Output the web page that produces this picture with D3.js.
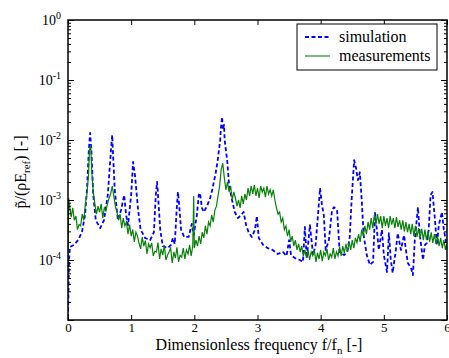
<!DOCTYPE html>
<html><head><meta charset="utf-8">
<script src="https://cdn.jsdelivr.net/npm/d3@7"></script>
<style>
body{margin:0;background:#fff;}
svg{display:block;}
svg text{font-family:"Liberation Serif","Times New Roman",Times,"DejaVu Serif",serif;}
</style></head>
<body><svg id="c" width="449" height="358"></svg>
<script>
// ---- data ----
const xTickValues = [0, 1, 2, 3, 4, 5, 6];
const yTickExponents = [0, -1, -2, -3, -4];
const seriesNames = ["simulation", "measurements"];

const simFreq = [
  0, 0.016, 0.03, 0.095, 0.16, 0.22, 0.27, 0.30, 0.33, 0.35, 0.37, 0.40, 0.44, 0.51, 0.57, 0.63,
  0.68, 0.70, 0.71, 0.74, 0.79, 0.84, 0.89, 0.92, 0.95, 1.00, 1.03, 1.06, 1.11, 1.15, 1.22, 1.30,
  1.36, 1.39, 1.41, 1.42, 1.46, 1.50, 1.58, 1.63, 1.66, 1.69, 1.72, 1.74, 1.76, 1.79, 1.84, 1.91,
  1.96, 1.99, 2.04, 2.07, 2.09, 2.12, 2.15, 2.20, 2.25, 2.29, 2.34, 2.37, 2.41, 2.42, 2.44, 2.45,
  2.47, 2.48, 2.52, 2.55, 2.59, 2.64, 2.69, 2.74, 2.78, 2.82, 2.86, 2.91, 2.96, 2.99, 3.02, 3.09,
  3.16, 3.24, 3.32, 3.40, 3.46, 3.50, 3.53, 3.59, 3.67, 3.72, 3.75, 3.78, 3.83, 3.88, 3.92, 3.97,
  3.99, 4.02, 4.05, 4.08, 4.13, 4.18, 4.21, 4.26, 4.30, 4.37, 4.42, 4.46, 4.49, 4.53, 4.56, 4.59,
  4.62, 4.65, 4.68, 4.73, 4.78, 4.83, 4.86, 4.89, 4.92, 4.97, 5.00, 5.05, 5.08, 5.11, 5.14, 5.19,
  5.22, 5.27, 5.32, 5.35, 5.38, 5.43, 5.46, 5.49, 5.54, 5.57, 5.62, 5.65, 5.68, 5.71, 5.74, 5.77,
  5.81, 5.84, 5.87, 5.92, 5.95, 5.98, 6.00];
const simAmp = [
  1.08e-5, 9.3e-5, 1.65e-4, 1.78e-4, 2.15e-4, 2.9e-4, 5.6e-4, 1.47e-3, 6.8e-3, 1.31e-2, 6.8e-3, 1.21e-3, 4.6e-4, 3.4e-4, 4.6e-4, 1.21e-3,
  6.8e-3, 1.21e-2, 6.8e-3, 1.47e-3, 4.6e-4, 6.8e-4, 1.21e-3, 5.6e-4, 3.8e-4, 1.21e-3, 4.3e-3, 2.6e-3, 6.8e-4, 3.2e-4, 2.33e-4, 2.15e-4,
  2.9e-4, 1.21e-3, 2.0e-3, 1.47e-3, 3.2e-4, 1.71e-4, 1.58e-4, 1.78e-4, 2.33e-4, 1.85e-4, 6.8e-4, 1.36e-3, 8.3e-4, 3.2e-4, 2.42e-4, 2.42e-4,
  4.0e-4, 2.6e-4, 5.6e-4, 1.21e-3, 1.31e-3, 7.4e-4, 6.3e-4, 7.9e-4, 1.08e-3, 1.58e-3, 2.9e-3, 4.6e-3, 1.0e-2, 1.58e-2, 2.42e-2, 1.47e-2,
  1.78e-2, 1.0e-2, 4.6e-3, 1.78e-3, 1.08e-3, 6.3e-4, 5.0e-4, 5.6e-4, 6.3e-4, 3.8e-4, 2.9e-4, 2.42e-4, 3.2e-4, 5.4e-4, 2.33e-4, 1.78e-4,
  1.58e-4, 1.47e-4, 1.26e-4, 1.36e-4, 1.17e-4, 2.15e-4, 1.21e-4, 1.08e-4, 1.0e-4, 9.3e-5, 3.55e-4, 1.08e-4, 3.8e-4, 1.21e-4, 1.78e-4, 8.3e-4,
  1.58e-3, 8.3e-4, 5.6e-4, 1.47e-4, 2.15e-4, 6.8e-4, 7.6e-4, 6.8e-4, 1.36e-4, 1.21e-4, 1.36e-4, 2.42e-4, 1.0e-3, 4.6e-3, 3.4e-3, 2.15e-3,
  2.9e-3, 1.0e-3, 2.6e-4, 1.21e-4, 8.3e-5, 9.3e-5, 6.1e-4, 3.2e-4, 1.47e-4, 3.2e-4, 1.21e-4, 6.3e-5, 2.8e-4, 1.0e-4, 6.1e-5, 1.47e-4,
  2.8e-4, 1.47e-4, 2.6e-4, 1.47e-4, 8.9e-5, 7.4e-5, 5.6e-5, 2.15e-4, 7.6e-4, 2.6e-4, 1.0e-4, 1.78e-4, 1.92e-4, 3.2e-4, 1.21e-3, 1.36e-3,
  4.6e-4, 1.78e-4, 3.8e-4, 6.3e-4, 3.2e-4, 2.15e-4, 1.47e-4];

const measFreq = [
  0, 0.01, 0.025, 0.05, 0.075, 0.1, 0.125, 0.15, 0.175, 0.2, 0.225, 0.25, 0.275, 0.3, 0.325, 0.34, 0.36, 0.375, 0.4,
  0.425, 0.45, 0.475, 0.5, 0.525, 0.55, 0.575, 0.6, 0.625, 0.65, 0.675, 0.7, 0.725, 0.75, 0.775, 0.8, 0.825, 0.85, 0.875, 0.9, 0.925, 0.95, 0.975, 1.0,
  1.025, 1.05, 1.075, 1.1, 1.125, 1.15, 1.175, 1.2, 1.225, 1.25, 1.275, 1.3, 1.325, 1.35, 1.375, 1.4, 1.425, 1.45, 1.475, 1.5,
  1.525, 1.55, 1.575, 1.6, 1.625, 1.65, 1.675, 1.7, 1.725, 1.75, 1.775, 1.8, 1.825, 1.85, 1.875, 1.9, 1.925, 1.95, 1.975,
  1.99, 2.0, 2.025, 2.05, 2.075, 2.1, 2.125, 2.15, 2.175, 2.2, 2.225, 2.25, 2.275, 2.3, 2.325, 2.35, 2.375, 2.4, 2.425, 2.45,
  2.475, 2.5, 2.525, 2.55, 2.575, 2.6, 2.625, 2.65, 2.675, 2.7, 2.725, 2.75, 2.775, 2.8, 2.825, 2.85, 2.875, 2.9, 2.925, 2.95, 2.975, 3.0,
  3.025, 3.05, 3.075, 3.1, 3.125, 3.15, 3.175, 3.2, 3.225, 3.25, 3.275, 3.3, 3.325, 3.35, 3.375, 3.4, 3.425, 3.45, 3.475, 3.5,
  3.525, 3.55, 3.575, 3.6, 3.625, 3.65, 3.675, 3.7, 3.725, 3.75, 3.775, 3.8, 3.825, 3.85, 3.875, 3.9, 3.925, 3.95, 3.975, 4.0,
  4.025, 4.05, 4.075, 4.1, 4.125, 4.15, 4.175, 4.2, 4.225, 4.25, 4.275, 4.3, 4.325, 4.35, 4.375, 4.4, 4.425, 4.45, 4.475, 4.5,
  4.525, 4.55, 4.575, 4.6, 4.625, 4.65, 4.675, 4.7, 4.725, 4.75, 4.775, 4.8, 4.825, 4.85, 4.875, 4.9, 4.925, 4.95, 4.975, 5.0,
  5.025, 5.05, 5.075, 5.1, 5.125, 5.15, 5.175, 5.2, 5.225, 5.25, 5.275, 5.3, 5.325, 5.35, 5.375, 5.4, 5.425, 5.45, 5.475, 5.5,
  5.525, 5.55, 5.575, 5.6, 5.625, 5.65, 5.675, 5.7, 5.725, 5.75, 5.775, 5.8, 5.825, 5.85, 5.875, 5.9, 5.925, 5.95, 5.975, 6.0];
const measAmp = [
  9.3e-5, 1.08e-3, 7.9e-4, 5.2e-4, 7.4e-4, 4.6e-4, 5.4e-4, 3.2e-4, 3.9e-4, 3.7e-4, 5.8e-4, 4.6e-4, 8.6e-4, 1.26e-3, 2.6e-3, 6.8e-3, 8.3e-3, 3.2e-3, 1.36e-3,
  8.6e-4, 5.8e-4, 7.9e-4, 6.3e-4, 8.6e-4, 5.0e-4, 7.4e-4, 6.6e-4, 8.6e-4, 1.08e-3, 1.26e-3, 1.71e-3, 1.17e-3, 7.9e-4, 6.3e-4, 4.6e-4, 5.8e-4, 3.4e-4, 5.0e-4, 3.7e-4, 4.3e-4, 2.7e-4, 3.9e-4, 2.5e-4,
  3.2e-4, 2.0e-4, 2.9e-4, 2.5e-4, 1.9e-4, 1.53e-4, 2.4e-4, 1.71e-4, 2.1e-4, 1.26e-4, 1.85e-4, 1.6e-4, 1.92e-4, 1.17e-4, 1.4e-4, 1.36e-4, 1.95e-4, 1.04e-4, 1.53e-4, 1.21e-4,
  1.75e-4, 1.0e-4, 1.2e-4, 1.37e-4, 1.58e-4, 8.9e-5, 1.36e-4, 1.08e-4, 1.63e-4, 9.3e-5, 1.2e-4, 1.12e-4, 1.58e-4, 1.04e-4, 1.47e-4, 1.26e-4, 1.78e-4, 1.17e-4, 1.71e-4,
  1.17e-3, 1.58e-4, 2.15e-4, 1.71e-4, 2.5e-4, 1.85e-4, 2.9e-4, 2.33e-4, 3.7e-4, 2.7e-4, 4.3e-4, 3.7e-4, 5.6e-4, 4.3e-4, 6.8e-4, 7.9e-4, 1.17e-3, 1.71e-3, 3.2e-3, 4.1e-3,
  2.33e-3, 1.47e-3, 2.0e-3, 1.36e-3, 1.71e-3, 1.0e-3, 1.36e-3, 1.08e-3, 7.9e-4, 1.0e-3, 7.4e-4, 1.17e-3, 8.6e-4, 1.26e-3, 1.0e-3, 1.58e-3, 1.17e-3, 1.71e-3, 1.26e-3, 1.78e-3, 1.17e-3, 1.58e-3,
  1.08e-3, 1.71e-3, 1.36e-3, 1.58e-3, 1.12e-3, 1.71e-3, 1.26e-3, 1.48e-3, 1.17e-3, 1.47e-3, 1.0e-3, 7.4e-4, 5.8e-4, 6.3e-4, 4.3e-4, 5.0e-4, 3.2e-4, 3.7e-4, 2.5e-4, 3.2e-4,
  2.0e-4, 2.5e-4, 1.71e-4, 2.15e-4, 1.47e-4, 1.85e-4, 1.36e-4, 1.71e-4, 1.17e-4, 1.48e-4, 1.08e-4, 1.47e-4, 1.0e-4, 1.36e-4, 1.18e-4, 1.47e-4, 9.3e-5, 1.31e-4, 1.04e-4, 1.47e-4,
  9.6e-5, 1.36e-4, 1.18e-4, 1.53e-4, 1.0e-4, 1.26e-4, 1.12e-4, 1.58e-4, 1.04e-4, 1.37e-4, 1.17e-4, 1.65e-4, 1.17e-4, 1.71e-4, 1.31e-4, 1.85e-4, 1.36e-4, 2.0e-4, 1.47e-4, 2.15e-4,
  1.58e-4, 2.33e-4, 1.95e-4, 2.7e-4, 2.0e-4, 3.2e-4, 2.5e-4, 3.7e-4, 2.7e-4, 4.3e-4, 3.2e-4, 5.0e-4, 3.4e-4, 5.6e-4, 3.9e-4, 5.8e-4, 4.0e-4, 5.4e-4, 3.4e-4, 5.4e-4,
  3.7e-4, 5.0e-4, 3.4e-4, 5.4e-4, 3.9e-4, 5.0e-4, 3.4e-4, 5.2e-4, 3.55e-4, 4.6e-4, 3.2e-4, 4.6e-4, 3.0e-4, 4.3e-4, 2.9e-4, 4.0e-4, 2.7e-4, 4.0e-4, 2.5e-4, 3.7e-4,
  2.42e-4, 3.4e-4, 2.33e-4, 3.3e-4, 2.15e-4, 3.2e-4, 2.15e-4, 3.0e-4, 2.0e-4, 2.9e-4, 1.92e-4, 2.7e-4, 1.85e-4, 2.5e-4, 1.71e-4, 2.33e-4, 1.58e-4, 2.15e-4, 1.47e-4, 1.85e-4];

// ---- layout ----
const FONT = '"Liberation Serif","Times New Roman",Times,"DejaVu Serif",serif';
const svg = d3.select("#c");
const L = 68, R = 447, T = 20, B = 320;
const x = d3.scaleLinear().domain([0, 6]).range([L, R]);
const y = d3.scaleLog().domain([1e-5, 1]).range([B, T]);

svg.append("defs").append("clipPath").attr("id", "clip")
  .append("rect").attr("x", L).attr("y", T).attr("width", R - L).attr("height", B - T);

const plot = svg.append("g").attr("clip-path", "url(#clip)");
const line = d3.line().x(d => x(d[0])).y(d => y(d[1]));

const simData = simFreq.map((f, i) => [f, simAmp[i]]);
const measData = measFreq.map((f, i) => [f, measAmp[i]]);

plot.append("path").datum(simData).attr("d", line)
  .attr("fill", "none").attr("stroke", "#0000ff").attr("stroke-width", 1.8)
  .attr("stroke-dasharray", "4,2.5").attr("stroke-linejoin", "round");
plot.append("path").datum(measData).attr("d", line)
  .attr("fill", "none").attr("stroke", "#0a800a").attr("stroke-width", 1.2)
  .attr("stroke-linejoin", "miter");

// ---- axes ----
const majorY = yTickExponents.concat([-5]).map(e => Math.pow(10, e));
const minorY = [];
[-5, -4, -3, -2, -1].forEach(e => { for (let k = 2; k <= 9; k++) minorY.push(k * Math.pow(10, e)); });

function styleAxis(g) {
  g.attr("font-family", FONT);
  g.select(".domain").remove();
  g.selectAll(".tick line").attr("stroke", "#000").attr("stroke-width", 1);
  g.selectAll("text").attr("fill", "#000");
}

svg.append("g").attr("transform", `translate(0,${B})`)
  .call(d3.axisBottom(x).tickValues(xTickValues).tickSize(-5).tickSizeOuter(0).tickPadding(3).tickFormat(d3.format("d")))
  .call(styleAxis)
  .call(g => g.selectAll("text").attr("font-size", 13));
svg.append("g").attr("transform", `translate(0,${T})`)
  .call(d3.axisTop(x).tickValues(xTickValues).tickSize(-5).tickSizeOuter(0).tickFormat(""))
  .call(styleAxis);
const yl = svg.append("g").attr("transform", `translate(${L},0)`)
  .call(d3.axisLeft(y).tickValues(majorY).tickSize(-6).tickSizeOuter(0).tickPadding(7).tickFormat(""))
  .call(styleAxis);
yl.selectAll(".tick text").each(function (d) {
  const e = Math.round(Math.log10(d));
  if (!yTickExponents.includes(e)) return;
  const t = d3.select(this).attr("font-size", 14);
  t.append("tspan").text("10");
  t.append("tspan").attr("dy", "-0.55em").attr("font-size", 10).text(String(e));
});
svg.append("g").attr("transform", `translate(${L},0)`)
  .call(d3.axisLeft(y).tickValues(minorY).tickSize(-3).tickSizeOuter(0).tickFormat(""))
  .call(styleAxis);
svg.append("g").attr("transform", `translate(${R},0)`)
  .call(d3.axisRight(y).tickValues(majorY).tickSize(-6).tickSizeOuter(0).tickFormat(""))
  .call(styleAxis);
svg.append("g").attr("transform", `translate(${R},0)`)
  .call(d3.axisRight(y).tickValues(minorY).tickSize(-3).tickSizeOuter(0).tickFormat(""))
  .call(styleAxis);

svg.append("rect").attr("x", L).attr("y", T).attr("width", R - L).attr("height", B - T)
  .attr("fill", "none").attr("stroke", "#000").attr("stroke-width", 1.5);

// axis labels
const xl = svg.append("text").attr("x", 259).attr("y", 350).attr("text-anchor", "middle")
  .attr("font-family", FONT).attr("font-size", 16).attr("fill", "#000");
xl.append("tspan").text("Dimensionless frequency f/f");
xl.append("tspan").attr("font-size", 11).attr("dy", 4).text("n");
xl.append("tspan").attr("dy", -4).text(" [-]");

const ylab = svg.append("text").attr("transform", "translate(26,172) rotate(-90)")
  .attr("text-anchor", "middle").attr("font-family", FONT).attr("font-size", 16).attr("fill", "#000");
ylab.append("tspan").text("p\u0303/(\u03C1E");
ylab.append("tspan").attr("font-size", 11).attr("dy", 4).text("ref");
ylab.append("tspan").attr("dy", -4).text(") [-]");

// legend
const lg = svg.append("g");
lg.append("rect").attr("x", 297).attr("y", 24).attr("width", 140).attr("height", 46)
  .attr("fill", "#fff").attr("stroke", "#000").attr("stroke-width", 1);
const legendItems = [
  {name: seriesNames[0], color: "#0000ff", dash: "4,2.5", w: 1.8, yy: 37},
  {name: seriesNames[1], color: "#0a800a", dash: null, w: 1.1, yy: 56}
];
legendItems.forEach(it => {
  lg.append("line").attr("x1", 305).attr("x2", 330).attr("y1", it.yy).attr("y2", it.yy)
    .attr("stroke", it.color).attr("stroke-width", it.w).attr("stroke-dasharray", it.dash);
  lg.append("text").attr("x", 339).attr("y", it.yy + 5).attr("font-family", FONT)
    .attr("font-size", 16).attr("fill", "#000").text(it.name);
});
</script></body></html>
